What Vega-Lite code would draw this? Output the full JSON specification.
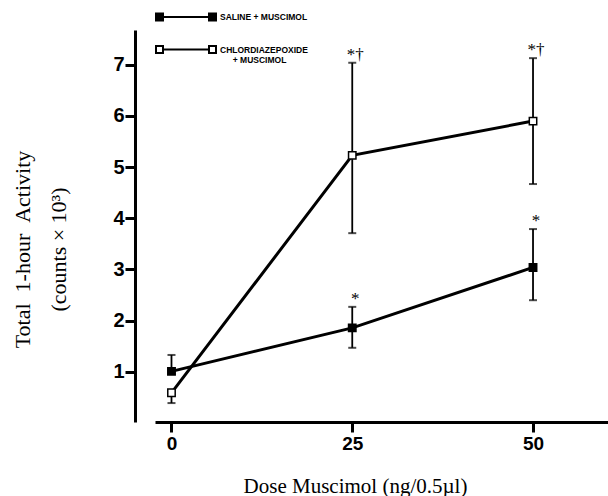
{
  "$schema": "https://vega.github.io/schema/vega-lite/v6.json",
  "width": 453,
  "height": 392,
  "autosize": {"type": "none"},
  "padding": {"left": 155, "top": 30, "right": 0, "bottom": 74},
  "background": "white",
  "config": {"view": {"stroke": null}},
  "datasets": {
    "means": [
      {"group": "Saline + Muscimol", "dose": 0, "activity": 1.01},
      {"group": "Saline + Muscimol", "dose": 25, "activity": 1.86},
      {"group": "Saline + Muscimol", "dose": 50, "activity": 3.04},
      {"group": "Chlordiazepoxide + Muscimol", "dose": 0, "activity": 0.59},
      {"group": "Chlordiazepoxide + Muscimol", "dose": 25, "activity": 5.23},
      {"group": "Chlordiazepoxide + Muscimol", "dose": 50, "activity": 5.9}
    ],
    "errors": [
      {"group": "Saline + Muscimol", "dose": 0, "activity": 1.01, "end": 1.33},
      {"group": "Saline + Muscimol", "dose": 25, "activity": 1.86, "end": 2.27},
      {"group": "Saline + Muscimol", "dose": 25, "activity": 1.86, "end": 1.47},
      {"group": "Saline + Muscimol", "dose": 50, "activity": 3.04, "end": 3.79},
      {"group": "Saline + Muscimol", "dose": 50, "activity": 3.04, "end": 2.4},
      {"group": "Chlordiazepoxide + Muscimol", "dose": 0, "activity": 0.59, "end": 0.39},
      {"group": "Chlordiazepoxide + Muscimol", "dose": 25, "activity": 5.23, "end": 7.04},
      {"group": "Chlordiazepoxide + Muscimol", "dose": 25, "activity": 5.23, "end": 3.71},
      {"group": "Chlordiazepoxide + Muscimol", "dose": 50, "activity": 5.9, "end": 7.13},
      {"group": "Chlordiazepoxide + Muscimol", "dose": 50, "activity": 5.9, "end": 4.67}
    ],
    "notes": [
      {"dose": 25, "activity": 7.04, "label": "*†"},
      {"dose": 50, "activity": 7.13, "label": "*†"},
      {"dose": 25, "activity": 2.27, "label": "*"},
      {"dose": 50, "activity": 3.79, "label": "*"}
    ]
  },
  "encoding": {
    "x": {
      "field": "dose", "type": "quantitative",
      "scale": {"domain": [-2.28, 60.37], "nice": false, "zero": false},
      "axis": {
        "values": [0, 25, 50], "grid": false,
        "title": "Dose Muscimol (ng/0.5µl)",
        "titleFont": "Liberation Serif", "titleFontSize": 21, "titleFontWeight": "normal", "titleColor": "black",
        "titleX": 200, "titleY": 70, "titleBaseline": "alphabetic", "titleAlign": "center",
        "labelFont": "Liberation Sans", "labelFontSize": 19, "labelFontWeight": "bold", "labelColor": "black",
        "labelPadding": 2, "labelFlush": false,
        "tickSize": 10, "tickWidth": 3, "tickColor": "black",
        "domainWidth": 3, "domainColor": "black"
      }
    },
    "y": {
      "field": "activity", "type": "quantitative",
      "scale": {"domain": [0.02, 7.68], "nice": false, "zero": false},
      "axis": {
        "values": [1, 2, 3, 4, 5, 6, 7], "grid": false, "offset": 20,
        "title": ["Total\u00a0\u00a01-hour\u00a0\u00a0Activity", "(counts × 10³)"],
        "titleFont": "Liberation Serif", "titleFontSize": 22, "titleFontWeight": "normal", "titleColor": "black",
        "titleLineHeight": 36, "titleAngle": -90,
        "titleX": -113, "titleY": 219, "titleBaseline": "middle", "titleAlign": "center",
        "labelFont": "Liberation Sans", "labelFontSize": 20, "labelFontWeight": "bold", "labelColor": "black",
        "labelPadding": 1, "labelFlush": false,
        "tickSize": 10, "tickWidth": 3, "tickColor": "black",
        "domainWidth": 3, "domainColor": "black"
      }
    }
  },
  "layer": [
    {
      "data": {"name": "means"},
      "mark": {"type": "line", "color": "black", "strokeWidth": 3},
      "encoding": {
        "detail": {"field": "group"}
      }
    },
    {
      "data": {"name": "errors"},
      "mark": {"type": "rule", "color": "black", "strokeWidth": 1.8},
      "encoding": {
        "y2": {"field": "end"}
      }
    },
    {
      "data": {"name": "errors"},
      "mark": {"type": "tick", "color": "black", "orient": "horizontal", "size": 8, "thickness": 2},
      "encoding": {
        "y": {"field": "end", "type": "quantitative"}
      }
    },
    {
      "data": {"name": "means"},
      "mark": {"type": "point", "shape": "square", "size": 55, "filled": true, "stroke": "black", "strokeWidth": 1.5, "opacity": 1},
      "encoding": {
        "fill": {
          "field": "group", "type": "nominal",
          "scale": {"domain": ["Saline + Muscimol", "Chlordiazepoxide + Muscimol"], "range": ["black", "white"]},
          "legend": {
            "orient": "none", "legendX": 25, "legendY": -19, "title": null, "padding": 0,
            "symbolType": "M-6,-0.7H-4.6V0.7H-6Z M-4.6,0H4.6 M4.6,-0.7H6V0.7H4.6Z",
            "symbolSize": 100, "symbolStrokeColor": "black", "symbolStrokeWidth": 2, "symbolOpacity": 1,
            "labelFont": "Liberation Sans", "labelFontSize": 8.5, "labelFontWeight": "bold", "labelColor": "black",
            "labelOffset": 28, "rowPadding": 16.5, "labelLimit": 300,
            "labelExpr": "datum.label == 'Chlordiazepoxide + Muscimol' ? ['CHLORDIAZEPOXIDE', '\u200b\u2002\u2002\u2002+ MUSCIMOL'] : upper(datum.label)"
          }
        }
      }
    },
    {
      "data": {"name": "notes"},
      "mark": {"type": "text", "font": "Liberation Serif", "fontSize": 17, "baseline": "bottom", "align": "center", "dx": 3, "dy": 1, "color": "black"},
      "encoding": {
        "text": {"field": "label"}
      }
    }
  ]
}
